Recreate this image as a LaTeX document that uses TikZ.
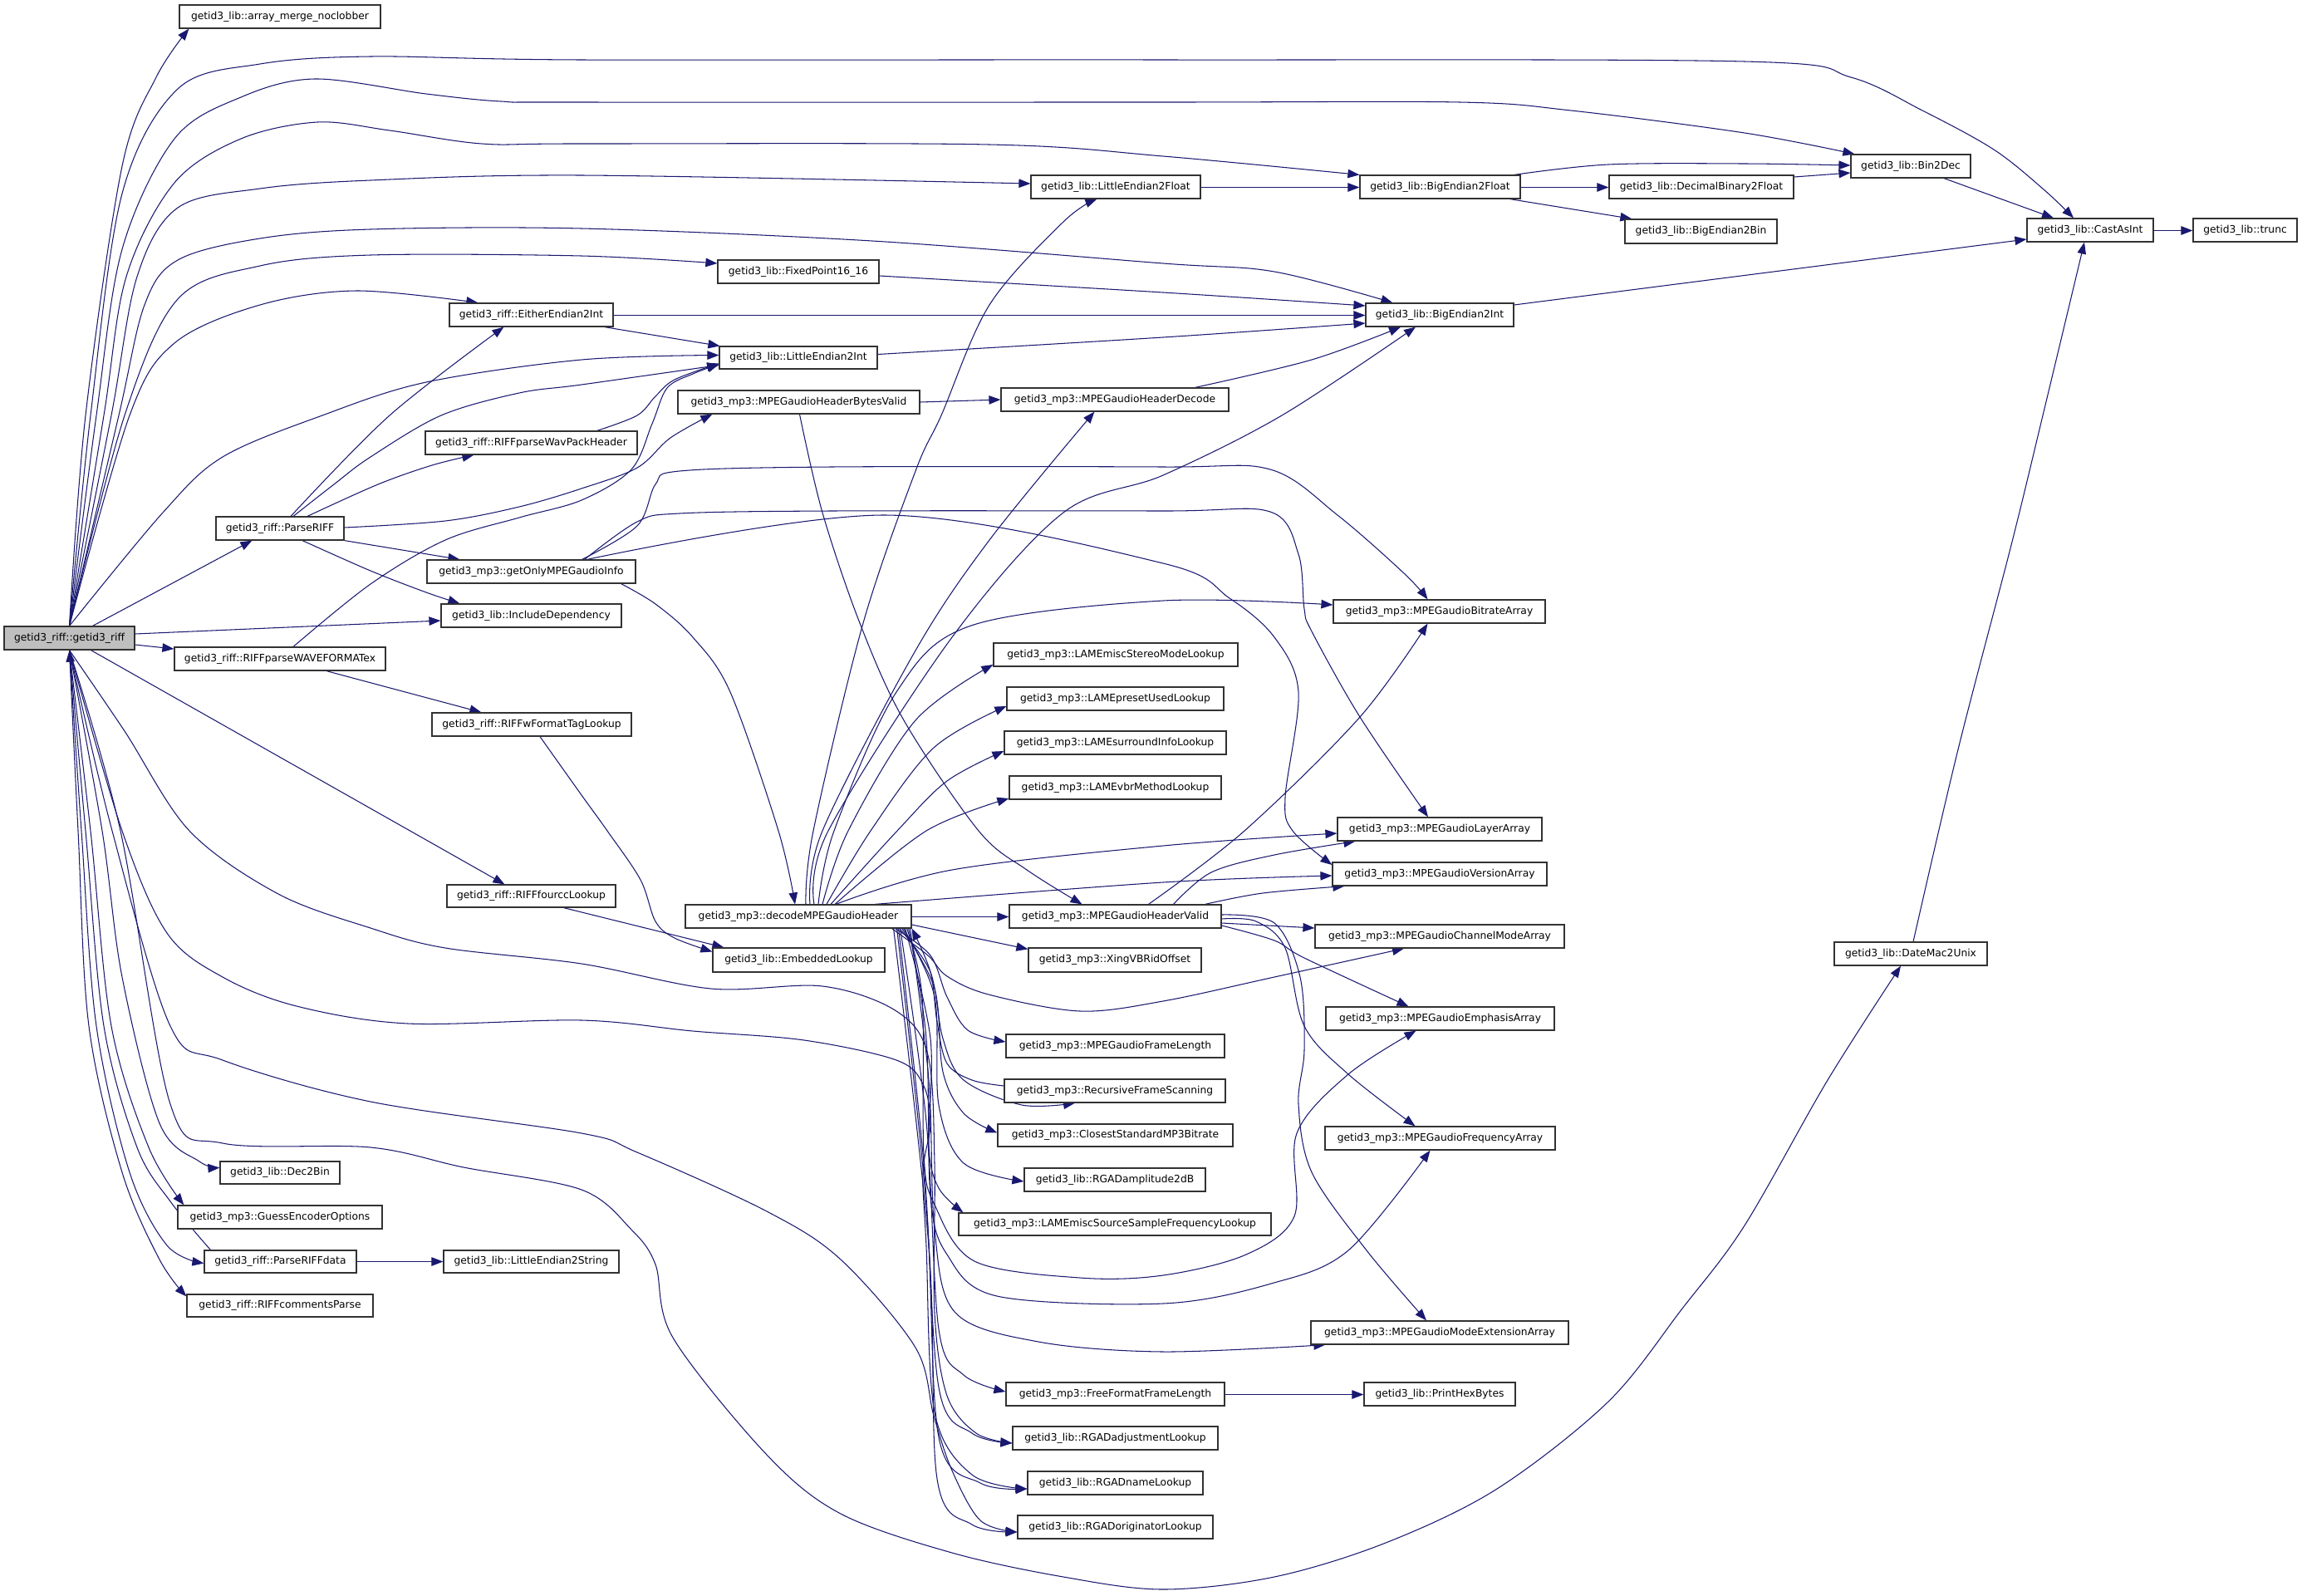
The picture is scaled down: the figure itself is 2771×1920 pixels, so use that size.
\documentclass[tikz,border=0pt]{standalone}
\usepackage{fontspec}
\newfontfamily\dvs{DejaVu Sans}
\usetikzlibrary{arrows.meta}
\definecolor{edgec}{RGB}{25,25,112}
\definecolor{boxc}{RGB}{50,50,50}
\definecolor{rootc}{RGB}{191,191,191}
\pgfdeclarelayer{bg}
\pgfsetlayers{bg,main}
\tikzset{
 box/.style={draw=boxc, line width=1.2pt, fill=white, inner sep=0pt, font=\dvs\fontsize{12.3}{14}\selectfont, text=black},
 rootbox/.style={box, fill=rootc},
 edge/.style={draw=edgec, line width=1.05pt, -{Triangle[length=14pt,width=10.5pt]}},
 sm/.style={smooth, tension=0.55}
}
\newcommand\bx[7][box]{%
 \pgfmathsetmacro\bxw{#5-#3}\pgfmathsetmacro\bxh{#6-#4}%
 \pgfmathsetmacro\bxcx{(#3+#5)/2}\pgfmathsetmacro\bxcy{(#4+#6)/2}%
 \node[#1, minimum width=\bxw pt, minimum height=\bxh pt] (#2) at (\bxcx,\bxcy) {#7};}
\begin{document}
\begin{tikzpicture}[x=1pt,y=-1pt]
\useasboundingbox (0,0) rectangle (2771,1920);
% nodes
\bx{array}{216}{6}{458}{34}{getid3\_lib::array\_merge\_noclobber}
\bx{LEFloat}{1241}{211}{1445}{239}{getid3\_lib::LittleEndian2Float}
\bx{BEFloat}{1637}{211}{1830}{239}{getid3\_lib::BigEndian2Float}
\bx{DBFloat}{1937}{211}{2159}{239}{getid3\_lib::DecimalBinary2Float}
\bx{BinDec}{2228}{186}{2372}{214}{getid3\_lib::Bin2Dec}
\bx{BEBin}{1956}{264}{2139}{293}{getid3\_lib::BigEndian2Bin}
\bx{Cast}{2440}{263}{2592}{291}{getid3\_lib::CastAsInt}
\bx{trunc}{2640}{263}{2765}{291}{getid3\_lib::trunc}
\bx{Fixed}{864}{313}{1058}{341}{getid3\_lib::FixedPoint16\_16}
\bx{Either}{541}{365}{738}{393}{getid3\_riff::EitherEndian2Int}
\bx{BEInt}{1644}{365}{1822}{393}{getid3\_lib::BigEndian2Int}
\bx{LEInt}{866}{417}{1056}{444}{getid3\_lib::LittleEndian2Int}
\bx{HBV}{816}{470}{1107}{498}{getid3\_mp3::MPEGaudioHeaderBytesValid}
\bx{HDec}{1205}{467}{1479}{495}{getid3\_mp3::MPEGaudioHeaderDecode}
\bx{WavPack}{512}{519}{767}{547}{getid3\_riff::RIFFparseWavPackHeader}
\bx{ParseRIFF}{260}{622}{414}{650}{getid3\_riff::ParseRIFF}
\bx{getOnly}{514}{674}{765}{702}{getid3\_mp3::getOnlyMPEGaudioInfo}
\bx{IncDep}{531}{727}{748}{755}{getid3\_lib::IncludeDependency}
\bx{Bitrate}{1605}{722}{1860}{750}{getid3\_mp3::MPEGaudioBitrateArray}
\bx[rootbox]{R}{5}{754}{162}{782}{getid3\_riff::getid3\_riff}
\bx{WFEx}{210}{779}{464}{807}{getid3\_riff::RIFFparseWAVEFORMATex}
\bx{Stereo}{1196}{774}{1490}{802}{getid3\_mp3::LAMEmiscStereoModeLookup}
\bx{Preset}{1212}{827}{1473}{855}{getid3\_mp3::LAMEpresetUsedLookup}
\bx{Surround}{1209}{880}{1476}{908}{getid3\_mp3::LAMEsurroundInfoLookup}
\bx{Vbr}{1215}{934}{1470}{962}{getid3\_mp3::LAMEvbrMethodLookup}
\bx{wFormat}{520}{858}{760}{886}{getid3\_riff::RIFFwFormatTagLookup}
\bx{Layer}{1610}{984}{1856}{1012}{getid3\_mp3::MPEGaudioLayerArray}
\bx{Version}{1604}{1038}{1862}{1066}{getid3\_mp3::MPEGaudioVersionArray}
\bx{fourcc}{538}{1065}{741}{1092}{getid3\_riff::RIFFfourccLookup}
\bx{decode}{825}{1089}{1097}{1117}{getid3\_mp3::decodeMPEGaudioHeader}
\bx{HValid}{1215}{1089}{1470}{1117}{getid3\_mp3::MPEGaudioHeaderValid}
\bx{Channel}{1583}{1113}{1883}{1141}{getid3\_mp3::MPEGaudioChannelModeArray}
\bx{DateMac}{2208}{1134}{2392}{1162}{getid3\_lib::DateMac2Unix}
\bx{Embedded}{858}{1141}{1065}{1170}{getid3\_lib::EmbeddedLookup}
\bx{Xing}{1238}{1141}{1446}{1170}{getid3\_mp3::XingVBRidOffset}
\bx{Emphasis}{1596}{1212}{1871}{1240}{getid3\_mp3::MPEGaudioEmphasisArray}
\bx{FrameLen}{1211}{1245}{1474}{1273}{getid3\_mp3::MPEGaudioFrameLength}
\bx{Recursive}{1209}{1299}{1475}{1327}{getid3\_mp3::RecursiveFrameScanning}
\bx{Closest}{1201}{1353}{1484}{1380}{getid3\_mp3::ClosestStandardMP3Bitrate}
\bx{Freq}{1595}{1356}{1872}{1384}{getid3\_mp3::MPEGaudioFrequencyArray}
\bx{DecBin}{265}{1398}{409}{1425}{getid3\_lib::Dec2Bin}
\bx{RGADamp}{1233}{1406}{1451}{1434}{getid3\_lib::RGADamplitude2dB}
\bx{Guess}{214}{1451}{460}{1479}{getid3\_mp3::GuessEncoderOptions}
\bx{LAMEsrc}{1154}{1460}{1530}{1487}{getid3\_mp3::LAMEmiscSourceSampleFrequencyLookup}
\bx{ParseData}{246}{1505}{429}{1532}{getid3\_riff::ParseRIFFdata}
\bx{LEStr}{534}{1505}{745}{1532}{getid3\_lib::LittleEndian2String}
\bx{Comments}{225}{1558}{449}{1585}{getid3\_riff::RIFFcommentsParse}
\bx{ModeExt}{1578}{1590}{1888}{1618}{getid3\_mp3::MPEGaudioModeExtensionArray}
\bx{FreeFmt}{1211}{1664}{1474}{1692}{getid3\_mp3::FreeFormatFrameLength}
\bx{PrintHex}{1642}{1664}{1824}{1692}{getid3\_lib::PrintHexBytes}
\bx{RGADadj}{1219}{1717}{1466}{1745}{getid3\_lib::RGADadjustmentLookup}
\bx{RGADname}{1237}{1771}{1448}{1799}{getid3\_lib::RGADnameLookup}
\bx{RGADorig}{1225}{1824}{1460}{1852}{getid3\_lib::RGADoriginatorLookup}
\begin{pgfonlayer}{bg}
\fill[white] (0,0) rectangle (2771,1920);
% getid3_riff upward bundle
\draw[edge] plot[sm] coordinates {(R.north) (103,500) (147,200) (188,93) ([xshift=12pt]array.south west)};
\draw[edge] plot[sm] coordinates {(R.north) (109,500) (147,233) (214,107) (313,77) (446,68) (700,72) (1400,72) (2100,74) (2228,93) (2314,133) (2400,180) (2460,228) ([xshift=-20pt]Cast.north)};
\draw[edge] plot[sm] coordinates {(R.north) (116,500) (147,300) (210,167) (290,117) (379,95) (513,113) (603,122) (700,123) (1400,123) (1757,123) (1891,133) (2100,160) ([xshift=5pt]BinDec.north west)};
\draw[edge] plot[sm] coordinates {(R.north) (125,500) (152,333) (210,220) (290,167) (382,147) (469,157) (580,173) (700,173) (1191,174) (1400,188) (BEFloat.north west)};
\draw[edge] plot[sm] coordinates {(R.north) (134,500) (165,333) (214,250) (313,227) (446,217) (700,211) ([yshift=4pt]LEFloat.west)};
\draw[edge] plot[sm] coordinates {(R.north) (143,500) (174,367) (214,313) (313,287) (446,276) (700,275) (1050,290) (1400,317) (1534,327) ([xshift=33pt]BEInt.north west)};
\draw[edge] plot[sm] coordinates {(R.north) (150,500) (214,360) (313,320) (446,307) (700,308) ([yshift=10pt]Fixed.west)};
\draw[edge] plot[sm] coordinates {(R.north) (156,500) (210,413) (313,367) (429,350) ([xshift=35pt]Either.north west)};
\draw[edge] plot[sm] coordinates {(R.north) (196,617) (268,550) (388,500) (513,460) (700,433) ([yshift=3pt]LEInt.west)};
\draw[edge] ([xshift=28pt]R.north) -- ([xshift=44pt]ParseRIFF.south west);
\draw[edge] ([yshift=5pt]R.east) -- ([yshift=-6pt]IncDep.west);
\draw[edge] ([yshift=-8pt]R.east) -- ([yshift=12pt]WFEx.west);
\draw[edge] ([xshift=26pt]R.south) -- ([xshift=70pt]fourcc.north west);
% getid3_riff downward bundle
\draw[edge] plot[sm] coordinates {([xshift=8pt]ParseData.north west) (205,1446) (165,1381) (125,1235) (103,1000) (R.south)};
\draw[edge] plot[sm] coordinates {(R.south) (98,1000) (116,1235) (156,1411) (201,1499) ([yshift=-2pt]ParseData.west)};
\draw[edge] plot[sm] coordinates {(R.south) (94,1000) (107,1235) (147,1411) (192,1516) ([yshift=-3pt]Comments.north west)};
\draw[edge] plot[sm] coordinates {(R.south) (109,1000) (134,1235) (179,1381) ([xshift=8pt]Guess.north west)};
\draw[edge] plot[sm] coordinates {(R.south) (123,1000) (147,1176) (192,1352) (240,1398) ([yshift=6pt]DecBin.west)};
\draw[edge] plot[sm] coordinates {(R.south) (145,1000) (205,1329) (268,1376) (446,1381) (558,1405) (700,1432) (760,1480) (789,1522) (810,1610) (923,1751) (1012,1822) (1146,1869) (1280,1898) (1400,1913) (1534,1898) (1668,1857) (1802,1792) (1936,1687) (2025,1575) (2100,1475) (2200,1300) ([xshift=-12pt]DateMac.south)};
\draw[edge] plot[sm] coordinates {(R.south) (150,880) (228,1000) (335,1076) (446,1117) (536,1141) (700,1160) (856,1190) (990,1187) (1079,1217) (1117,1270) (1125,1400) (1125,1580) (1140,1680) (1175,1725) ([yshift=-6pt]RGADadj.west)};
\draw[edge] plot[sm] coordinates {(R.south) (147,1000) (201,1123) (268,1176) (357,1211) (491,1232) (700,1228) (834,1241) (968,1252) (1079,1276) (1111,1305) (1120,1352) (1111,1411) (1115,1500) (1125,1700) (1170,1775) ([yshift=-7pt]RGADname.west)};
\draw[edge] plot[sm] coordinates {(R.south) (135,1000) (205,1235) (268,1276) (446,1326) (700,1364) (767,1387) (923,1458) (1012,1516) (1102,1622) (1124,1704) (1146,1770) (1180,1830) ([yshift=-6pt]RGADorig.west)};
\draw[edge] (ParseData.east) -- (LEStr.west);
% ParseRIFF and friends
\draw[edge] plot[sm] coordinates {([xshift=13pt]ParseRIFF.north) (469,500) ([xshift=66pt]Either.south west)};
\draw[edge] plot[sm] coordinates {([xshift=16pt]ParseRIFF.north) (402,583) (446,550) (531,500) (625,473) (700,463) ([yshift=-9pt]LEInt.west)};
\draw[edge] plot[sm] coordinates {([xshift=33pt]ParseRIFF.north) (455,583) (520,560) ([xshift=59pt]WavPack.south west)};
\draw[edge] plot[sm] coordinates {([yshift=1pt]ParseRIFF.east) (536,627) (625,610) (700,588) (767,563) (807,527) ([xshift=42pt]HBV.south west)};
\draw[edge] (ParseRIFF.south east) -- ([xshift=40pt]getOnly.north west);
\draw[edge] plot[sm] coordinates {([xshift=27pt]ParseRIFF.south) (446,687) (513,713) ([xshift=23pt]IncDep.north west)};
\draw[edge] plot[sm] coordinates {([xshift=-49pt]WavPack.north east) (767,500) (789,477) (812,457) ([yshift=-7pt]LEInt.west)};
\draw[edge] plot[sm] coordinates {([xshift=16pt]WFEx.north) (446,703) (536,650) (625,623) (700,602) (760,565) (785,510) (803,467) (834,450) ([yshift=-8pt]LEInt.west)};
\draw[edge] ([xshift=56pt]WFEx.south) -- ([xshift=60pt]wFormat.north west);
\draw[edge] plot[sm] coordinates {([xshift=10pt]wFormat.south) (700,957) (731,1000) (771,1059) (789,1109) (812,1129) ([yshift=10pt]Embedded.west)};
\draw[edge] ([xshift=39pt]fourcc.south) -- ([xshift=14pt]Embedded.north west);
% integer / float helpers
\draw[edge] ([xshift=-11pt]Either.south east) -- ([xshift=1pt]LEInt.north west);
\draw[edge] ([yshift=-0.5pt]Either.east) -- ([yshift=-0.5pt]BEInt.west);
\draw[edge] plot[sm] coordinates {([yshift=-5pt]Fixed.east) (1400,352) ([yshift=11pt]BEInt.west)};
\draw[edge] plot[sm] coordinates {([yshift=4pt]LEInt.east) (1400,406) ([yshift=-10pt]BEInt.west)};
\draw[edge] ([yshift=-0.5pt]LEFloat.east) -- ([yshift=-0.5pt]BEFloat.west);
\draw[edge] ([yshift=-0.5pt]BEFloat.east) -- ([yshift=-0.5pt]DBFloat.west);
\draw[edge] ([xshift=-13pt]BEFloat.south east) -- ([xshift=9pt]BEBin.north west);
\draw[edge] plot[sm] coordinates {([xshift=-8pt]BEFloat.north east) (1936,198) (2100,197) ([yshift=1pt]BinDec.west)};
\draw[edge] ([yshift=12pt]DBFloat.east) -- ([yshift=-8pt]BinDec.west);
\draw[edge] ([xshift=40pt]BinDec.south) -- ([xshift=-44pt]Cast.north);
\draw[edge] ([yshift=-0.5pt]Cast.east) -- ([yshift=-0.5pt]trunc.west);
\draw[edge] ([yshift=12pt]BEInt.east) -- ([yshift=-11pt]Cast.west);
\draw[edge] plot[sm] coordinates {([xshift=3pt]DateMac.north) (2357,902) (2421,656) (2459,500) ([xshift=-7pt]Cast.south)};
% MPEG header
\draw[edge] (HBV.east) -- (HDec.west);
\draw[edge] plot[sm] coordinates {([xshift=1pt]HBV.south) (990,617) (1035,750) (1088,867) (1178,1000) (1236,1047) ([xshift=-40pt]HValid.north)};
\draw[edge] plot[sm] coordinates {([xshift=-41pt]HDec.north east) (1579,433) ([xshift=-47pt]BEInt.south)};
% getOnlyMPEGaudioInfo
\draw[edge] plot[sm] coordinates {([xshift=-18pt]getOnly.south east) (789,727) (834,767) (879,833) (937,1000) ([xshift=-4pt]decode.north)};
\draw[edge] plot[sm] coordinates {([xshift=-65pt]getOnly.north east) (767,633) (789,583) (818,567) (1000,562) (1400,562) (1529,565) (1610,620) (1690,690) ([xshift=-14pt]Bitrate.north)};
\draw[edge] plot[sm] coordinates {([xshift=-62pt]getOnly.north east) (767,628) (818,618) (1000,615) (1400,615) (1529,616) (1563,667) (1570,733) (1579,760) (1637,863) ([xshift=-14pt]Layer.north)};
\draw[edge] plot[sm] coordinates {([xshift=-59pt]getOnly.north east) (1066,620) (1400,678) (1480,720) (1534,767) (1563,833) (1547,960) (1556,1000) ([yshift=11pt]Version.west)};
% decodeMPEGaudioHeader upward fan
\draw[edge] plot[sm] coordinates {([xshift=9pt]decode.north) (979,1000) (1039,750) (1102,567) (1133,500) (1191,367) (1280,267) ([xshift=80pt]LEFloat.south west)};
\draw[edge] plot[sm] coordinates {([xshift=14pt]decode.north) (990,1000) (1102,783) (1191,650) ([xshift=113pt]HDec.south west)};
\draw[edge] plot[sm] coordinates {([xshift=19pt]decode.north) (997,1000) (1146,767) (1280,617) (1400,572) (1543,500) ([xshift=-29pt]BEInt.south)};
\draw[edge] plot[sm] coordinates {([xshift=24pt]decode.north) (1004,1000) (1079,833) (1169,753) (1400,723) ([yshift=8pt]Bitrate.west)};
\draw[edge] plot[sm] coordinates {([xshift=29pt]decode.north) (1021,1000) (1102,867) ([yshift=-12pt]Stereo.west)};
\draw[edge] plot[sm] coordinates {([xshift=34pt]decode.north) (1048,1000) (1124,900) ([yshift=-9pt]Preset.west)};
\draw[edge] plot[sm] coordinates {([xshift=39pt]decode.north) (1080,1000) (1140,940) ([yshift=-10pt]Surround.west)};
\draw[edge] plot[sm] coordinates {([xshift=44pt]decode.north) (1115,1000) ([yshift=-13pt]Vbr.west)};
\draw[edge] plot[sm] coordinates {([xshift=45pt]decode.north) (1146,1047) (1400,1018) ([yshift=-5pt]Layer.west)};
\draw[edge] plot[sm] coordinates {([xshift=92pt]decode.north) (1400,1062) ([yshift=-2pt]Version.west)};
% decodeMPEGaudioHeader rightward / downward fan
\draw[edge] ([yshift=-0.5pt]decode.east) -- ([yshift=-0.5pt]HValid.west);
\draw[edge] ([yshift=-10pt]decode.east) -- ([yshift=-2pt]Xing.north west);
\draw[edge] plot[sm] coordinates {([xshift=-24pt]decode.south east) (1117,1150) (1140,1175) (1190,1197) (1300,1217) (1400,1205) (1534,1176) ([xshift=-43pt]Channel.south)};
\draw[edge] plot[sm] coordinates {([xshift=-20pt]decode.south east) (1120,1150) (1140,1200) (1165,1240) ([yshift=5pt]FrameLen.west)};
\draw[edge] plot[sm] coordinates {([xshift=-15pt]decode.south east) (1120,1170) (1135,1250) (1160,1300) (1230,1330) ([xshift=-48pt]Recursive.south)};
\draw[edge] plot[sm] coordinates {([yshift=6pt]Recursive.west) (1170,1300) (1140,1280) (1128,1230) (1120,1170) (decode.south east)};
\draw[edge] plot[sm] coordinates {([xshift=-12pt]decode.south east) (1125,1190) (1135,1290) (1160,1340) ([yshift=3pt]Closest.west)};
\draw[edge] plot[sm] coordinates {([xshift=-10pt]decode.south east) (1125,1200) (1130,1330) (1160,1400) ([yshift=-2pt]RGADamp.west)};
\draw[edge] plot[sm] coordinates {([xshift=-8pt]decode.south east) (1120,1250) (1118,1380) (1130,1430) ([xshift=6pt]LAMEsrc.north west)};
\draw[edge] plot[sm] coordinates {([xshift=-6pt]decode.south east) (1110,1200) (1112,1390) (1125,1450) (1173,1518) (1300,1538) (1400,1535) (1500,1510) (1558,1464) (1561,1364) (1623,1293) ([xshift=-29pt]Emphasis.south)};
\draw[edge] plot[sm] coordinates {([xshift=-4pt]decode.south east) (1115,1250) (1120,1440) (1140,1510) (1200,1560) (1400,1569) (1530,1545) (1623,1505) ([xshift=-12pt]Freq.south)};
\draw[edge] plot[sm] coordinates {([xshift=-2pt]decode.south east) (1118,1300) (1125,1480) (1150,1580) (1250,1615) (1400,1627) ([xshift=18pt]ModeExt.south west)};
\draw[edge] plot[sm] coordinates {([xshift=-14pt]decode.south east) (1115,1350) (1130,1600) (1160,1655) ([yshift=3pt]FreeFmt.west)};
\draw[edge] plot[sm] coordinates {([xshift=-16pt]decode.south east) (1112,1400) (1130,1670) (1170,1725) ([yshift=-6pt]RGADadj.west)};
\draw[edge] plot[sm] coordinates {([xshift=-18pt]decode.south east) (1115,1450) (1130,1730) (1180,1785) ([yshift=-7pt]RGADname.west)};
\draw[edge] plot[sm] coordinates {([xshift=-22pt]decode.south east) (1118,1500) (1128,1780) (1170,1835) ([yshift=-6pt]RGADorig.west)};
\draw[edge] ([yshift=-0.5pt]FreeFmt.east) -- ([yshift=-0.5pt]PrintHex.west);
% MPEGaudioHeaderValid
\draw[edge] plot[sm] coordinates {([xshift=40pt]HValid.north) (1498,1000) (1637,863) ([xshift=-14pt]Bitrate.south)};
\draw[edge] plot[sm] coordinates {([xshift=70pt]HValid.north) (1458,1050) (1534,1029) ([xshift=22pt]Layer.south west)};
\draw[edge] plot[sm] coordinates {([xshift=-20pt]HValid.north east) (1520,1075) ([xshift=15pt]Version.south west)};
\draw[edge] ([yshift=-8pt]HValid.east) -- ([yshift=10pt]Channel.west);
\draw[edge] plot[sm] coordinates {([yshift=-11pt]HValid.east) (1534,1132) (1570,1153) ([xshift=-38pt]Emphasis.north)};
\draw[edge] plot[sm] coordinates {([yshift=-3pt]HValid.east) (1512,1109) (1547,1141) (1570,1235) (1623,1293) ([xshift=-30pt]Freq.north)};
\draw[edge] plot[sm] coordinates {([yshift=2pt]HValid.east) (1534,1111) (1565,1176) (1570,1264) (1563,1329) (1579,1411) (1645,1505) ([xshift=-16pt]ModeExt.north)};
\end{pgfonlayer}
\end{tikzpicture}
\end{document}
